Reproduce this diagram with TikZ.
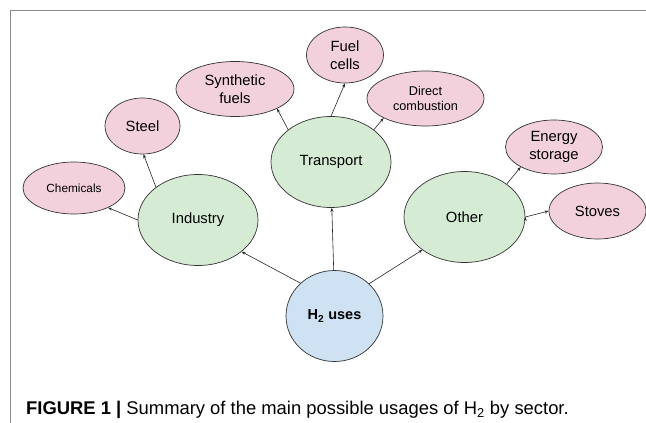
\documentclass[tikz,border=0pt]{standalone}
\usepackage{fontspec}
\setmainfont{Liberation Sans}
\usetikzlibrary{shapes.geometric,arrows.meta}

\definecolor{usepink}{HTML}{F2D1DC}
\definecolor{secgreen}{HTML}{D5EBD3}
\definecolor{rootblue}{HTML}{CFE2F3}

\begin{document}
\begin{tikzpicture}[x=1pt,y=-1pt,
    blob/.style={ellipse,draw=black!80,line width=0.7pt,inner sep=0pt,align=center,font=\fontsize{14.8}{17.5}\selectfont},
    sector/.style={blob,fill=secgreen,minimum width=120pt,minimum height=91pt},
    usage/.style={blob,fill=usepink},
    root/.style={blob,fill=rootblue,minimum width=97pt,minimum height=91pt,font=\bfseries\fontsize{14.5}{17}\selectfont},
    arr/.style={-{Stealth[length=4pt,width=3pt]},line width=0.6pt,black!85}]
    \useasboundingbox (0,0) rectangle (646,423);
    \draw[black!45,line width=1pt] (10,423) -- (10,10.5) -- (646,10.5);

    \node[root] (H) at (334.5,316) {H\textsubscript{2} uses};
    \node[sector] (I) at (198,220) {Industry};
    \node[sector] (T) at (331,162) {Transport};
    \node[sector,minimum width=121pt] (O) at (464.5,217) {Other};

    \node[usage,minimum width=102pt,minimum height=52pt,font=\fontsize{11.8}{14}\selectfont] (C) at (74,188) {Chemicals};
    \node[usage,minimum width=75pt,minimum height=56pt] (St) at (142.5,126) {Steel};
    \node[usage,minimum width=118pt,minimum height=55pt] (Sy) at (235,89) {Synthetic\\fuels};
    \node[usage,minimum width=77pt,minimum height=56pt] (F) at (345,55) {Fuel\\cells};
    \node[usage,minimum width=117pt,minimum height=55pt,font=\fontsize{12.7}{15.7}\selectfont] (D) at (425.5,98.5) {Direct\\combustion};
    \node[usage,minimum width=97pt,minimum height=54pt] (E) at (554,147) {Energy\\storage};
    \node[usage,minimum width=97pt,minimum height=56pt] (Sv) at (597.5,211) {Stoves};

    \node[anchor=base west,inner sep=0pt,font=\fontsize{18.4}{20}\selectfont] (cap) at (26,414)
        {\textbf{FIGURE 1 |} Summary of the main possible usages of H\textsubscript{2} by sector.};

    \draw[arr]
        (H.136) edge (I.-36.5)
        (H.91) edge (T.-89)
        (H.43) edge (O.-142)
        (I.180) edge (C.-30)
        (I.142) edge (St.-88)
        (T.143) edge (Sy.-25)
        (T.90) edge (F.-90)
        (T.37) edge (D.-155)
        (O.38) edge (E.-149)
        (O.0) edge (Sv.180);
\end{tikzpicture}
\end{document}
